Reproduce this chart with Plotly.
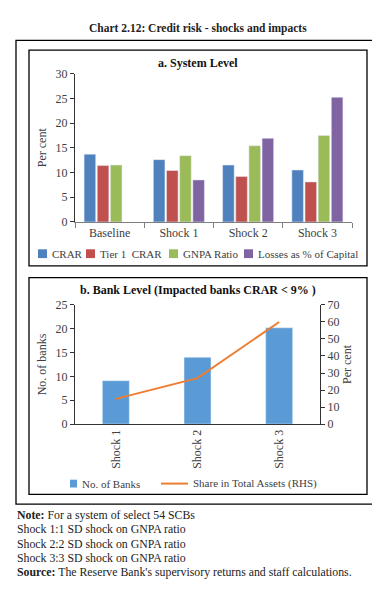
import plotly.graph_objects as go

W, H = 380, 589

# ---- Data ----
scenarios_a = ["Baseline", "Shock 1", "Shock 2", "Shock 3"]
crar = [13.7, 12.6, 11.5, 10.5]
tier1_crar = [11.4, 10.4, 9.2, 8.1]
gnpa_ratio = [11.5, 13.4, 15.4, 17.5]
losses_pct_capital = [None, 8.5, 16.9, 25.2]

scenarios_b = ["Shock 1", "Shock 2", "Shock 3"]
no_of_banks = [9.1, 14.0, 20.2]
share_total_assets = [14.8, 27.0, 60.0]

series_a = [
    ("CRAR", crar, "#4F81BD"),
    ("Tier 1  CRAR", tier1_crar, "#C0504D"),
    ("GNPA Ratio", gnpa_ratio, "#9BBB59"),
    ("Losses as % of Capital", losses_pct_capital, "#8064A2"),
]

FONT = "Liberation Serif"
TICKC = "#404040"


def px_x(x):
    return x / W


def px_y(y):
    return 1 - y / H


fig = go.Figure()

for name, vals, col in series_a:
    fig.add_trace(go.Bar(x=scenarios_a, y=vals, name=name, marker_color=col,
                         xaxis="x", yaxis="y", showlegend=False))

fig.add_trace(go.Bar(x=scenarios_b, y=no_of_banks, name="No. of Banks",
                     marker_color="#5B9BD5", width=0.33,
                     xaxis="x2", yaxis="y2", showlegend=False))
fig.add_trace(go.Scatter(x=scenarios_b, y=share_total_assets, mode="lines",
                         name="Share in Total Assets (RHS)",
                         line=dict(color="#ED7D31", width=2),
                         xaxis="x2", yaxis="y3", showlegend=False))

axis_common = dict(showgrid=False, zeroline=False, fixedrange=True,
                   tickfont=dict(family=FONT, size=12, color=TICKC))

fig.update_layout(
    width=W, height=H,
    margin=dict(l=0, r=0, t=0, b=0),
    paper_bgcolor="white", plot_bgcolor="white",
    font=dict(family=FONT, size=12, color="#222"),
    barmode="group", bargap=0.24, bargroupgap=0.12,
    xaxis=dict(domain=[px_x(67), px_x(344)], anchor="y",
               showline=True, linecolor="#7f7f7f", linewidth=1,
               ticks="outside", tickson="boundaries", ticklen=5,
               tickcolor="#7f7f7f", **axis_common),
    yaxis=dict(domain=[px_y(212), px_y(60)], anchor="x", range=[0, 30],
               dtick=5, showline=True, linecolor="#333", linewidth=1,
               ticks="outside", ticklen=4, tickcolor="#333",
               title=dict(text="Per cent", standoff=6,
                          font=dict(family=FONT, size=12, color=TICKC)),
               **axis_common),
    xaxis2=dict(domain=[px_x(67), px_x(312)], anchor="y2",
                showline=True, linecolor="#333", linewidth=1,
                ticks="", tickangle=-90, **axis_common),
    yaxis2=dict(domain=[px_y(419), px_y(297)], anchor="x2", range=[0, 25],
                dtick=5, showline=True, linecolor="#333", linewidth=1,
                ticks="outside", ticklen=4, tickcolor="#333",
                title=dict(text="No. of banks", standoff=6,
                           font=dict(family=FONT, size=12, color=TICKC)),
                **axis_common),
    yaxis3=dict(overlaying="y2", side="right", anchor="x2", range=[0, 70],
                dtick=10, showline=True, linecolor="#333", linewidth=1,
                ticks="outside", ticklen=4, tickcolor="#333",
                title=dict(text="Per cent", standoff=4,
                           font=dict(family=FONT, size=12, color=TICKC)),
                **axis_common),
)

shapes = []
# frames
for (x0, y0, x1, y1) in [(8, 26, 372, 501), (21, 36, 359, 257), (21, 269, 359, 491)]:
    shapes.append(dict(type="rect", xref="paper", yref="paper",
                       x0=px_x(x0), x1=px_x(x1), y0=px_y(y1), y1=px_y(y0),
                       line=dict(color="black", width=1.3), fillcolor="rgba(0,0,0,0)"))

annotations = []
annotations.append(dict(text="<b>Chart 2.12: Credit risk - shocks and impacts</b>",
                        x=0.5, y=px_y(14), xref="paper", yref="paper",
                        showarrow=False, font=dict(family=FONT, size=11.5, color="#222"),
                        xanchor="center", yanchor="middle"))
annotations.append(dict(text="<b>a. System Level</b>", x=px_x(190), y=px_y(49),
                        xref="paper", yref="paper", showarrow=False,
                        font=dict(family=FONT, size=12, color="#111"),
                        xanchor="center", yanchor="middle"))
annotations.append(dict(text="<b>b. Bank Level (Impacted banks CRAR &lt; 9% )</b>",
                        x=px_x(190), y=px_y(282), xref="paper", yref="paper",
                        showarrow=False, font=dict(family=FONT, size=12, color="#111"),
                        xanchor="center", yanchor="middle"))

# legend a (custom, single row)
leg_a = [(30, "CRAR", "#4F81BD"), (78, "Tier 1  CRAR", "#C0504D"),
         (161, "GNPA Ratio", "#9BBB59"), (236, "Losses as % of Capital", "#8064A2")]
for x, txt, col in leg_a:
    shapes.append(dict(type="rect", xref="paper", yref="paper",
                       x0=px_x(x), x1=px_x(x + 9), y0=px_y(249), y1=px_y(240),
                       line=dict(width=0), fillcolor=col))
    annotations.append(dict(text=txt, x=px_x(x + 12), y=px_y(244.5), xref="paper",
                            yref="paper", showarrow=False, xanchor="left",
                            yanchor="middle",
                            font=dict(family=FONT, size=11, color=TICKC)))

# legend b
shapes.append(dict(type="rect", xref="paper", yref="paper",
                   x0=px_x(62), x1=px_x(69), y0=px_y(484), y1=px_y(476),
                   line=dict(width=0), fillcolor="#5B9BD5"))
annotations.append(dict(text="No. of Banks", x=px_x(72), y=px_y(480), xref="paper",
                        yref="paper", showarrow=False, xanchor="left", yanchor="middle",
                        font=dict(family=FONT, size=11, color=TICKC)))
shapes.append(dict(type="line", xref="paper", yref="paper",
                   x0=px_x(153), x1=px_x(180), y0=px_y(480), y1=px_y(480),
                   line=dict(color="#ED7D31", width=2)))
annotations.append(dict(text="Share in Total Assets (RHS)", x=px_x(183), y=px_y(480),
                        xref="paper", yref="paper", showarrow=False, xanchor="left",
                        yanchor="middle", font=dict(family=FONT, size=11, color=TICKC)))

notes = [
    "<b>Note:</b> For a system of select 54 SCBs",
    "Shock 1:1 SD shock on GNPA ratio",
    "Shock 2:2 SD shock on GNPA ratio",
    "Shock 3:3 SD shock on GNPA ratio",
    "<b>Source:</b> The Reserve Bank's supervisory returns and staff calculations.",
]
for i, t in enumerate(notes):
    annotations.append(dict(text=t, x=px_x(7), y=px_y(512 + i * 14.7), xref="paper",
                            yref="paper", showarrow=False, xanchor="left",
                            yanchor="middle",
                            font=dict(family=FONT, size=11.8, color="#222")))

fig.update_layout(shapes=shapes, annotations=annotations)

fig.write_html("out.html")
